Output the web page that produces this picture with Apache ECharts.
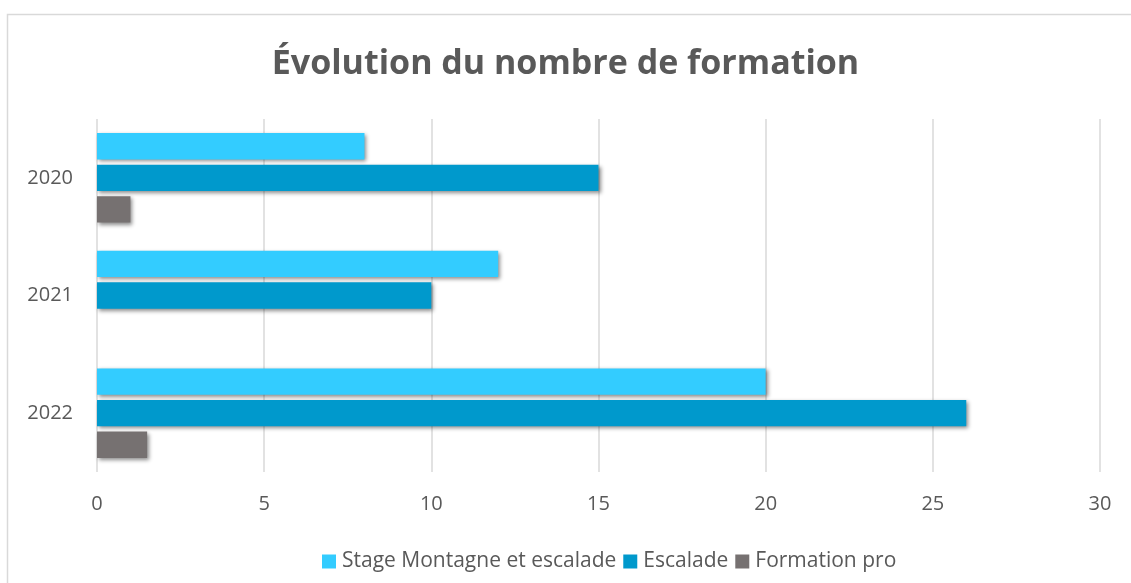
<!DOCTYPE html>
<html>
<head>
<meta charset="utf-8">
<script src="https://cdn.jsdelivr.net/npm/echarts@6/dist/echarts.min.js"></script>
<style>
  html, body { margin: 0; padding: 0; background: #fff; }
  #chart { width: 1131px; height: 583px; }
</style>
</head>
<body>
<div id="chart"></div>
<script>
// années de haut en bas
const years = ['2020', '2021', '2022']
const stage = [8, 12, 20]
const escalade = [15, 10, 26]
const formationPro = [1, 0, 1.5]
const xTicks = [0, 5, 10, 15, 20, 25, 30]

const FONT = '"Open Sans", "Noto Sans", sans-serif'
const TEXT = '#595959'

const shadow = {
  shadowBlur: 4,
  shadowOffsetX: 2,
  shadowOffsetY: 2,
  shadowColor: 'rgba(0,0,0,0.45)',
}

function bar(name, data, color) {
  return {
    name,
    type: 'bar',
    data,
    barGap: '20%',
    barCategoryGap: '24%',
    itemStyle: { color, ...shadow },
  }
}

const chart = echarts.init(document.getElementById('chart'))
chart.setOption({
  animation: false,
  textStyle: { fontFamily: FONT },
  graphic: [{
    type: 'rect',
    shape: { x: 7.5, y: 14.5, width: 1140, height: 600 },
    style: { fill: 'none', stroke: '#d9d9d9', lineWidth: 1.5 },
    silent: true,
  }],
  title: {
    text: 'Évolution du nombre de formation',
    left: 'center',
    top: 42,
    textStyle: { fontFamily: FONT, fontSize: 34, fontWeight: 'bold', color: TEXT },
  },
  legend: {
    bottom: 6,
    left: 317,
    icon: 'rect',
    itemWidth: 14,
    itemHeight: 14,
    itemGap: 7,
    textStyle: { fontFamily: FONT, fontSize: 21, color: TEXT, padding: [0, 0, 0, 1] },
  },
  grid: { left: 97, right: 31, top: 119, bottom: 111, containLabel: false },
  xAxis: {
    type: 'value',
    min: xTicks[0],
    max: xTicks[xTicks.length - 1],
    interval: 5,
    axisLine: { show: false },
    axisTick: { show: false },
    axisLabel: { fontSize: 20, color: TEXT, margin: 22 },
    splitLine: { lineStyle: { color: '#d9d9d9', width: 1.5 } },
  },
  yAxis: {
    type: 'category',
    data: years,
    inverse: true,
    axisLine: { show: false },
    axisTick: { show: false },
    axisLabel: { fontSize: 20, color: TEXT, margin: 24 },
  },
  series: [
    bar('Stage Montagne et escalade', stage, '#33CCFF'),
    bar('Escalade', escalade, '#0099CC'),
    bar('Formation pro', formationPro, '#767171'),
  ],
})
</script>
</body>
</html>
